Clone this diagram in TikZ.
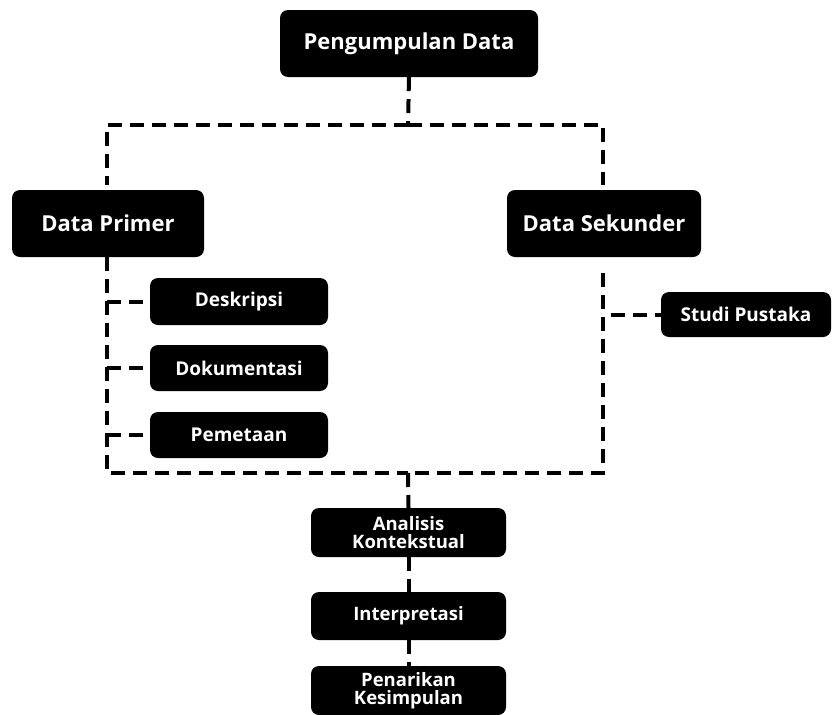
\documentclass[tikz,border=0pt]{standalone}
\usepackage{fontspec}
\setmainfont{Open Sans}
\begin{document}
\begin{tikzpicture}[x=1pt,y=-1pt,
  box/.style={draw=none,fill=black,rounded corners=8pt,text=white,font=\bfseries,align=center,inner sep=0pt},
  bigbox/.style={box,font=\bfseries\fontsize{22}{24}\selectfont},
  smallbox/.style={box,font=\bfseries\fontsize{19}{20}\selectfont},
  lowbox/.style={box,font=\bfseries\fontsize{18.5}{17.5}\selectfont},
  dline/.style={line width=4pt,dash pattern=on 14pt off 8pt}]
\useasboundingbox (0,0) rectangle (833,715);
\node[bigbox,minimum width=258pt,minimum height=67pt] (top) at (409,43.5) {Pengumpulan Data};
\node[bigbox,minimum width=192pt,minimum height=67pt] (dp) at (108,223.5) {Data Primer};
\node[bigbox,minimum width=194pt,minimum height=67pt] (ds) at (604,223.5) {Data Sekunder};
\node[smallbox,minimum width=178pt,minimum height=47pt] (desk) at (239,301.5) {Deskripsi};
\node[smallbox,minimum width=178pt,minimum height=46pt] (dok) at (239,368) {Dokumentasi};
\node[smallbox,minimum width=178pt,minimum height=46pt] (pem) at (239,435) {Pemetaan};
\node[smallbox,minimum width=170pt,minimum height=45pt] (stu) at (746,314.5) {Studi Pustaka};
\node[lowbox,minimum width=195pt,minimum height=49pt] (ana) at (408.5,532.5) {Analisis\\Kontekstual};
\node[lowbox,minimum width=195pt,minimum height=48pt] (int) at (408.5,616) {Interpretasi};
\node[lowbox,minimum width=195pt,minimum height=49pt] (pen) at (408.5,690.5) {Penarikan\\Kesimpulan};
\coordinate (jt) at (408,125);
\coordinate (jb) at (408,473);
\coordinate (dpt) at (107,185);
\coordinate (dst) at (603,185);
\coordinate (dsb) at (603,273);
\draw[dline] (top.south) -- (jt);
\draw[dline] (jt) -| (dpt);
\draw[dline] (jt) -| (dst);
\draw[dline] (dp.south -| dpt) |- (jb);
\draw[dline] (dsb) |- (jb);
\draw[dline] (jb) -- (ana.north);
\draw[dline] (dpt |- desk.west) -- (desk.west);
\draw[dline] (dpt |- dok.west) -- (dok.west);
\draw[dline] (dpt |- pem.west) -- (pem.west);
\draw[dline] ([xshift=8pt]dsb |- stu.west) -- (stu.west);
\draw[dline] (ana.south) -- (int.north);
\draw[dline] (int.south) -- (pen.north);
\end{tikzpicture}
\end{document}
